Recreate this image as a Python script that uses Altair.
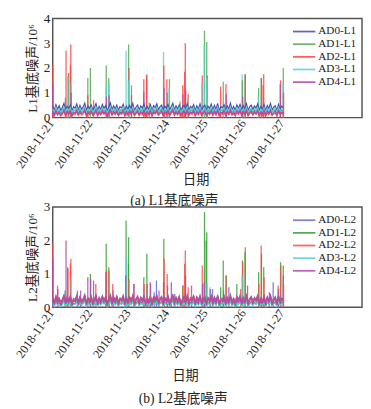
import altair as alt
import pandas as pd

# ---------------- data (values in units of 10^6; baselines in hundredths, hourly) ----------------
DATE_TICKS = [0, 24, 48, 72, 96, 120, 144]
DATE_LABELS = ["2018-11-21", "2018-11-22", "2018-11-23", "2018-11-24",
               "2018-11-25", "2018-11-26", "2018-11-27"]

SERIES_L1 = ["AD0-L1", "AD1-L1", "AD2-L1", "AD3-L1", "AD4-L1"]
SERIES_L2 = ["AD0-L2", "AD1-L2", "AD2-L2", "AD3-L2", "AD4-L2"]
COLORS_L1 = ["#4848b0", "#55a855", "#ff4040", "#55d2d2", "#b048b0"]
COLORS_L2 = ["#6a6ac6", "#36a036", "#ff4848", "#55d2d2", "#b048b0"]

AD0_L1 = [45,30,52,33,48,29,41,57,31,46,35,50,28,44,38,55,30,49,34,42,58,29,47,36,
          51,31,40,56,29,45,33,53,37,48,28,43,59,32,47,35,50,30,44,39,54,28,46,34,
          49,36,57,29,42,51,31,47,38,55,30,45,33,52,28,48,40,56,32,43,50,29,46,37,
          53,30,44,58,31,47,35,51,28,42,49,33,56,30,45,38,52,29,48,34,55,31,43,50,
          29,46,37,54,31,49,33,57,28,44,40,52,30,47,35,58,32,45,29,51,38,53,31,48,
          34,56,29,43,50,32,47,38,55,30,45,33,52,28,49,36,57,31,42,48,29,54,35,46,40]
AD1_L1 = [30,20,35,24,28,19,33,37,22,29,25,34,18,31,26,36,21,30,23,32,38,20,28,25,
          34,21,27,37,19,30,24,35,26,31,18,29,38,22,33,25,34,20,28,27,36,19,31,23,
          32,24,37,20,29,34,21,31,27,36,19,30,23,35,18,33,28,37,22,29,34,20,31,26,
          35,21,30,38,22,32,24,34,19,28,33,23,37,20,31,26,35,19,32,24,36,21,29,34,
          20,31,25,36,22,33,23,37,19,30,27,35,21,32,24,38,22,29,20,34,26,35,21,32,
          23,37,20,29,33,22,31,26,36,21,30,23,34,19,32,25,37,22,28,33,20,36,24,30,27]
AD2_L1 = [18,7,23,10,20,6,15,25,8,19,12,22,5,17,13,24,8,21,11,16,26,6,19,12,
          22,8,14,25,6,18,11,23,13,20,5,16,26,9,19,12,22,7,17,14,24,6,18,10,
          21,12,25,7,15,22,8,19,13,24,6,18,10,23,5,20,14,25,9,16,22,6,19,12,
          23,7,17,26,8,20,11,22,5,15,21,10,25,7,18,13,23,6,20,11,24,8,16,22,
          6,19,12,24,8,21,10,25,5,17,14,23,7,20,11,26,9,18,6,22,13,24,8,20,
          11,25,6,16,22,9,19,13,24,7,18,10,23,5,21,12,25,8,15,20,6,24,12,18,14]
AD3_L1 = [36,22,41,26,34,21,30,43,23,37,28,40,20,33,29,42,22,38,25,32,44,21,35,27,
          40,23,31,43,21,36,26,41,29,37,20,33,44,24,38,27,40,22,34,30,42,21,36,25,
          38,27,43,22,32,40,23,37,29,42,21,35,25,41,20,38,31,43,24,33,39,21,36,28,
          41,22,34,44,24,37,26,40,20,31,39,25,43,22,35,29,41,21,38,26,42,23,32,39,
          21,36,28,42,23,38,25,43,20,33,30,41,22,37,26,44,24,34,21,40,29,42,23,37,
          26,43,21,32,39,24,36,29,42,22,35,25,40,20,38,27,43,23,31,38,21,42,27,34,30]
AD4_L1 = [25,12,29,15,23,11,20,31,13,26,17,28,10,22,18,30,12,27,16,21,32,11,24,17,
          28,13,19,31,11,24,16,29,18,26,10,21,32,14,25,17,28,12,22,19,30,11,24,15,
          27,17,31,12,20,28,13,25,18,30,11,23,15,29,10,26,19,31,14,21,28,11,25,17,
          29,12,22,32,13,26,16,28,10,20,27,15,31,12,23,18,29,11,26,16,30,13,21,27,
          11,24,17,30,13,27,15,31,10,22,19,29,12,25,16,32,14,23,11,28,18,30,13,26,
          16,31,11,21,27,14,25,18,30,12,23,15,29,10,26,17,31,13,20,27,11,30,17,23,19]

AD0_L2 = [30,17,35,20,28,16,25,37,18,31,22,34,15,27,23,36,17,32,21,26,38,16,29,22,
          34,18,24,37,16,30,21,35,23,31,15,27,38,19,32,22,34,17,28,24,36,16,30,20,
          32,22,37,17,26,34,18,31,23,36,16,29,20,35,15,32,25,37,19,27,33,16,30,22,
          35,17,28,38,19,31,21,34,15,25,33,20,37,17,29,24,35,16,32,21,36,18,26,33,
          16,30,23,36,18,32,20,37,15,27,24,35,17,31,21,38,19,28,16,34,23,36,18,31,
          21,37,16,26,33,19,30,24,36,17,29,20,34,15,32,22,37,18,25,32,16,36,22,28,25]
AD1_L2 = [15,5,19,8,13,4,11,21,6,16,9,18,3,12,10,20,5,17,8,14,22,4,15,9,
          18,6,10,21,4,15,8,19,11,16,3,13,22,7,17,9,18,5,14,10,20,4,16,8,
          17,9,21,5,12,18,6,16,10,20,4,14,8,19,3,17,11,21,7,13,18,4,15,9,
          19,5,13,22,6,16,8,18,3,12,17,7,21,5,14,10,19,4,16,8,20,6,12,18,
          4,15,9,20,6,17,8,21,3,13,11,19,5,16,8,22,7,14,4,18,10,20,6,16,
          8,21,4,12,17,7,15,10,20,5,14,8,18,3,16,9,21,6,11,17,4,20,9,14,11]
AD2_L2 = [28,14,32,17,26,13,22,33,15,29,19,31,12,24,20,32,14,30,18,23,33,13,27,19,
          31,15,21,33,13,27,18,32,20,28,12,24,33,16,29,19,31,14,25,21,32,13,27,17,
          30,19,33,14,23,31,15,28,20,32,13,26,17,31,12,29,22,33,16,24,30,13,27,19,
          32,14,25,33,16,28,18,31,12,22,30,17,33,14,26,21,32,13,29,18,33,15,23,30,
          13,27,20,32,15,29,17,33,12,24,21,31,14,28,18,33,16,25,13,30,20,32,15,28,
          18,33,13,23,30,16,27,21,32,14,26,17,31,12,29,19,33,15,22,29,13,32,19,25,22]
AD3_L2 = [12,3,15,6,10,2,8,17,4,13,7,14,2,9,8,16,3,14,6,11,17,2,12,7,
          14,4,8,17,2,12,6,15,9,13,2,10,17,5,13,7,14,3,11,8,16,2,12,6,
          13,7,17,3,9,14,4,12,8,16,2,11,6,15,2,13,9,17,5,10,14,2,12,7,
          15,3,10,17,4,13,6,14,2,9,13,5,16,3,11,8,15,2,12,6,16,4,9,14,
          2,12,7,16,4,13,6,17,2,10,9,15,3,12,6,17,5,11,2,14,8,16,4,12,
          6,17,2,9,13,5,12,8,16,3,11,6,14,2,13,7,17,4,9,13,2,16,7,11,9]
AD4_L2 = [26,8,30,13,22,7,18,31,10,27,15,29,6,20,16,30,8,28,14,19,32,7,24,15,
          29,10,17,31,7,24,13,30,16,26,6,20,32,11,27,15,29,8,22,17,30,7,25,12,
          28,15,31,8,19,29,10,25,16,30,7,22,12,29,6,27,18,31,11,20,28,7,25,15,
          30,8,21,32,10,26,13,29,6,18,28,12,31,8,23,17,30,7,27,13,31,10,19,28,
          7,25,15,30,10,27,12,31,6,21,17,29,8,25,13,32,11,22,7,28,16,30,9,26,
          13,31,7,19,28,11,24,17,30,8,22,12,29,6,27,15,31,9,18,27,7,30,15,23,18]

# spikes: (hour since 2018-11-21 00:00, value)
SPK_AD0_L1 = []
SPK_AD1_L1 = [(7.9,0.8),(9.7,1.7),(21.9,1.6),(23.5,2.0),(33.4,2.1),(35,1.6),(47.4,2.95),
              (49.2,1.3),(58.8,1.75),(60.3,0.6),(71.5,1.0),(72.9,1.55),(79.6,0.65),(94.8,3.5),
              (96.2,3.05),(96.6,1.7),(106.5,1.45),(118.5,1.5),(120.1,1.75),(128.6,1.2),
              (130.2,1.6),(144,2.0)]
SPK_AD2_L1 = [(0,2.1),(8.3,2.7),(9.9,1.8),(11.3,2.95),(11.0,2.1),(21.9,0.9),(25.5,0.7),
              (47.6,2.0),(49.2,0.9),(56.9,1.55),(58.6,1.7),(69.4,2.1),(71.3,1.55),(81.2,1.3),
              (82.8,3.0),(82.4,1.85),(84.6,0.95),(93.4,1.7),(104.9,1.25),(108.2,1.35),
              (120.3,1.75),(130.4,1.6),(131.8,1.75),(131.4,1.3),(142.3,1.5),(144.2,1.0)]
SPK_AD3_L1 = [(9.5,1.65),(11.5,1.4),(33.4,1.3),(35.2,1.4),(45.8,2.7),(47.2,1.5),(69.2,2.65),
              (72.7,1.2),(84.4,0.8),(93.2,1.4),(94.6,2.9),(96.4,1.6),(118.3,1.75),(128.4,0.85),
              (143.9,1.4)]
SPK_AD4_L1 = [(0,1.3),(11.5,1.0),(33.6,0.85),(35.2,0.9),(56.9,1.05),(69.6,1.2),(81.4,0.95),
              (83,1.1),(108.4,0.95),(118.7,0.85),(142.1,1.35)]

SPK_AD0_L2 = [(63.4,0.45),(64.8,0.8),(74.1,0.75),(99.8,0.55),(137.7,0.75)]
SPK_AD1_L2 = [(7.7,0.5),(9.3,1.2),(23.5,1.0),(33.4,1.9),(35,1.2),(45.8,2.6),(47.4,2.1),
              (47.2,1.3),(56.9,0.9),(58.8,1.6),(69.4,2.05),(81.2,0.65),(94.8,2.85),(96.2,2.25),
              (95.8,2.0),(104.9,0.6),(106.5,1.4),(108.4,0.95),(115,0.7),(118.5,1.4),(120.1,1.65),
              (128.6,1.05),(130.4,1.6),(131.8,1.2),(142.3,1.35),(144,1.25)]
SPK_AD2_L2 = [(0,1.9),(3,0.65),(9.5,1.15),(11.3,1.45),(11.0,1.3),(26.9,0.7),(33.6,1.1),
              (35.2,1.1),(37.5,0.7),(47.6,0.85),(50.6,0.7),(57.1,0.7),(60.9,0.75),(69.6,1.45),
              (71.5,1.0),(81.4,0.65),(82.8,1.7),(82.4,1.3),(84.6,0.6),(93.4,1.25),(108.2,0.95),
              (117.4,0.55),(118.7,1.35),(120.3,1.8),(128.8,0.7),(130.2,1.85),(132,0.9),
              (140.8,0.65),(142.5,1.25),(144.2,0.7)]
SPK_AD3_L2 = [(11.5,0.8),(46,1.5),(96.4,0.7),(98.2,0.6),(118.3,0.95)]
SPK_AD4_L2 = [(0,1.45),(3.2,0.55),(8.3,2.0),(15.4,0.5),(17.4,0.5),(21.9,0.9),(23.7,0.85),
              (25.5,0.8),(33.2,1.05),(37.7,0.5),(45.6,0.95),(50.8,0.7),(59,0.7),(61.1,0.7),
              (66.4,0.5),(69.2,0.75),(71.7,0.65),(76.2,0.4),(83,0.95),(86.7,0.65),(93.6,0.7),
              (94.6,0.75),(98.4,0.55),(106.7,0.5),(110,0.6),(121.7,0.65),(135.3,0.45),
              (141,0.55),(144,0.95)]

SERIF = "Liberation Serif, Noto Sans CJK SC"
X_MAX_HOURS = 193.2


def panel(series, colors, bases, spikes, ymax, ytitle, caption, title_x, title_pad,
          cap_dx, cap_off, leg_y, height):
    line_rows = []
    for name, vals in zip(series, bases):
        for i, v in enumerate(vals):
            line_rows.append({"series": name, "hour": i, "value": v / 100})
    spike_rows = []
    for name, sp in zip(series, spikes):
        for h, v in sp:
            spike_rows.append({"series": name, "hour": h, "value": v, "zero": 0.0})
    spike_rows.sort(key=lambda r: -r["value"])
    line_df = pd.DataFrame(line_rows)
    spike_df = pd.DataFrame(spike_rows)

    color_scale = alt.Scale(domain=series, range=colors)
    legend = alt.Legend(orient="none", legendX=246, legendY=leg_y,
                        title=None, symbolType="stroke",
                        symbolSize=529, symbolStrokeWidth=1.8,
                        labelFont=SERIF, labelFontSize=11.5,
                        labelColor="#222", clipHeight=13,
                        rowPadding=0, padding=0, labelOffset=2)
    color_enc = alt.Color("series:N", scale=color_scale, sort=series, legend=legend)
    x_enc = alt.X("hour:Q",
                  scale=alt.Scale(domain=[0, X_MAX_HOURS], nice=False, zero=False),
                  axis=alt.Axis(values=DATE_TICKS,
                                labelExpr="['" + "','".join(DATE_LABELS) + "'][round(datum.value/24)]",
                                labelAngle=-55, labelFontSize=12.5, labelFont=SERIF,
                                labelColor="#222", labelOverlap=False, ticks=False,
                                domain=False, grid=False, labelOffset=-2,
                                labelPadding=3, title="日期", titleFont=SERIF,
                                titleFontSize=13.5, titleFontWeight="normal",
                                titleColor="#222", titleX=title_x, titlePadding=title_pad))
    y_scale = alt.Scale(domain=[0, ymax], nice=False)
    y_axis = alt.Axis(values=list(range(ymax + 1)), title=ytitle,
                      labelFont=SERIF, labelFontSize=13.5, labelColor="#222",
                      ticks=False, domain=False, grid=False, labelPadding=3,
                      titleFont=SERIF, titleFontSize=13.5,
                      titleFontWeight="normal", titleColor="#222",
                      titlePadding=4)

    rules = alt.Chart(spike_df).mark_rule(strokeWidth=1.3, opacity=0.85).encode(
        x=x_enc,
        y=alt.Y("zero:Q", scale=y_scale, axis=y_axis),
        y2="value:Q",
        color=color_enc,
    )
    lines = alt.Chart(line_df).mark_line(strokeWidth=1.2).encode(
        x=x_enc,
        y=alt.Y("value:Q", scale=y_scale, axis=y_axis),
        color=color_enc,
    )
    return alt.layer(rules, lines).properties(
        width=318, height=height,
        title=alt.TitleParams(caption, orient="bottom", frame="group", anchor="middle",
                              dx=cap_dx, fontSize=14, font=SERIF,
                              fontWeight="normal", color="#222", offset=cap_off),
    )


p1 = panel(SERIES_L1, COLORS_L1, [AD0_L1, AD1_L1, AD2_L1, AD3_L1, AD4_L1],
           [SPK_AD0_L1, SPK_AD1_L1, SPK_AD2_L1, SPK_AD3_L1, SPK_AD4_L1],
           4, "L1基底噪声/10⁶", "(a) L1基底噪声", 147, 3, -34, 8, 7, 102)
p2 = panel(SERIES_L2, COLORS_L2, [AD0_L2, AD1_L2, AD2_L2, AD3_L2, AD4_L2],
           [SPK_AD0_L2, SPK_AD1_L2, SPK_AD2_L2, SPK_AD3_L2, SPK_AD4_L2],
           3, "L2基底噪声/10⁶", "(b) L2基底噪声", 136, 9, -25, 11, 7, 103)

chart = alt.vconcat(p1, p2, spacing=92, bounds="flush").resolve_scale(
    color="independent").properties(
    padding={"left": 5, "top": -3, "right": 0, "bottom": 0}
).configure_view(stroke="#555", strokeWidth=1.5)

chart.save("out.html", embed_options={"renderer": "svg", "actions": False})
